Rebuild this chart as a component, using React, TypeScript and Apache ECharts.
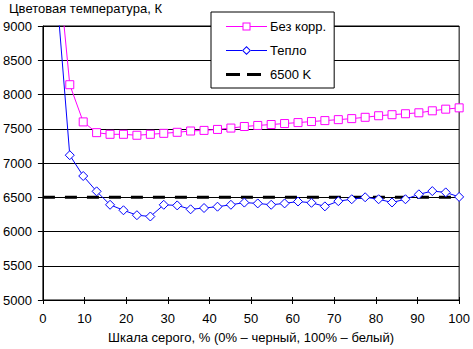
import React, { useEffect, useRef } from "react";
import * as echarts from "echarts";

const xValues: number[] = [
  3.23, 6.45, 9.68, 12.9, 16.13, 19.35, 22.58, 25.81, 29.03, 32.26, 35.48, 38.71,
  41.94, 45.16, 48.39, 51.61, 54.84, 58.06, 61.29, 64.52, 67.74, 70.97, 74.19,
  77.42, 80.65, 83.87, 87.1, 90.32, 93.55, 96.77, 100,
];
const noCorr: number[] = [
  10170, 8143, 7600, 7443, 7419, 7419, 7405, 7419, 7433, 7448, 7467, 7476, 7490,
  7510, 7533, 7548, 7562, 7576, 7590, 7605, 7619, 7633, 7648, 7667, 7690, 7705,
  7719, 7733, 7762, 7786, 7805,
];
const warm: number[] = [
  9550, 7114, 6810, 6586, 6390, 6310, 6238, 6219, 6390, 6381, 6324, 6343, 6362,
  6390, 6422, 6410, 6390, 6410, 6438, 6419, 6367, 6443, 6471, 6500, 6471, 6424,
  6471, 6543, 6590, 6571, 6505,
];
const refX: number[] = [0, 100];
const refY: number[] = [6500, 6500];
const seriesNames: string[] = ["Без корр.", "Тепло", "6500 K"];
const titleText = "Цветовая температура, К";
const xName = "Шкала серого, % (0% – черный, 100% – белый)";

const FONT = "'Liberation Sans', Arial, sans-serif";
const FS = 13;

const ICON_SQUARE =
  "path://M0,0 M41,9 M0,4 H17 V5 H0 Z M24,4 H41 V5 H24 Z " +
  "M16.5,0.5 H24.5 V8.5 H16.5 Z M17.5,1.5 V7.5 H23.5 V1.5 Z";
const ICON_DIAMOND =
  "path://M0,0 M41,9 M0,4 H16 V5 H0 Z M25,4 H41 V5 H25 Z " +
  "M20.5,0 L25,4.5 L20.5,9 L16,4.5 Z M20.5,1.4 L17.4,4.5 L20.5,7.6 L23.6,4.5 Z";
const ICON_DASH = "path://M0,0 M41,9 M0,3 H14 V6 H0 Z M21,3 H35 V6 H21 Z";

export default function App() {
  const ref = useRef<HTMLDivElement>(null);
  useEffect(() => {
    if (!ref.current) return;
    const chart = echarts.init(ref.current, undefined, { renderer: "svg" });
    const xBase = {
      type: "value",
      min: 0,
      max: 100,
      interval: 10,
      splitLine: { show: false },
    };
    const yBase = {
      type: "value",
      min: 5000,
      max: 9000,
      interval: 500,
    };
    chart.setOption({
      animation: false,
      backgroundColor: "#fff",
      textStyle: { fontFamily: FONT, color: "#000" },
      title: {
        text: titleText,
        left: 9,
        top: 2,
        padding: 0,
        textStyle: { fontFamily: FONT, fontSize: FS, fontWeight: "normal", color: "#000" },
      },
      legend: {
        orient: "vertical",
        left: 211,
        top: 12,
        padding: [8, 8, 7, 15],
        itemGap: 11,
        itemWidth: 41,
        itemHeight: 9,
        borderColor: "#000",
        borderWidth: 1,
        backgroundColor: "#fff",
        textStyle: { fontFamily: FONT, fontSize: FS, color: "#000", padding: [0, 0, 0, -2] },
        data: [
          { name: seriesNames[0], icon: ICON_SQUARE, itemStyle: { color: "#ff00ff", borderWidth: 0 } },
          { name: seriesNames[1], icon: ICON_DIAMOND, itemStyle: { color: "#0000ff", borderWidth: 0 } },
          { name: seriesNames[2], icon: ICON_DASH, itemStyle: { color: "#000", borderWidth: 0 } },
        ],
      },
      grid: {
        left: 38.5,
        right: 10,
        top: 26,
        bottom: 43,
        show: true,
        borderColor: "#000",
        borderWidth: 1,
        backgroundColor: "transparent",
      },
      xAxis: [
        {
          ...xBase,
          name: xName,
          nameLocation: "middle",
          nameGap: 31,
          nameTextStyle: { fontFamily: FONT, fontSize: FS, color: "#000" },
          axisLine: { show: true, lineStyle: { color: "#000", width: 1 } },
          axisTick: { show: true, length: 4, lineStyle: { color: "#000" } },
          axisLabel: { fontFamily: FONT, fontSize: FS, color: "#000", margin: 12 },
        },
        {
          ...xBase,
          position: "bottom",
          offset: 0,
          axisLine: { show: false },
          axisTick: { show: true, inside: true, length: 3, lineStyle: { color: "#000" } },
          axisLabel: { show: false },
        },
      ],
      yAxis: [
        {
          ...yBase,
          axisLine: { show: true, lineStyle: { color: "#000", width: 1 } },
          axisTick: { show: true, length: 5, lineStyle: { color: "#000" } },
          axisLabel: {
            fontFamily: FONT,
            fontSize: FS,
            color: "#000",
            margin: 11,
            formatter: (v: number) => String(v),
          },
          splitLine: { show: true, lineStyle: { color: "#000", width: 1 } },
        },
        {
          ...yBase,
          position: "left",
          offset: 0,
          axisLine: { show: false },
          axisTick: { show: true, inside: true, length: 4, lineStyle: { color: "#000" } },
          axisLabel: { show: false },
          splitLine: { show: false },
        },
      ],
      series: [
        {
          name: seriesNames[0],
          type: "line",
          data: xValues.map((x, i) => [x, noCorr[i]]),
          symbol: "rect",
          symbolSize: 8,
          showAllSymbol: true,
          color: "#ff00ff",
          lineStyle: { color: "#ff00ff", width: 1 },
          itemStyle: { color: "#fff", borderColor: "#ff00ff", borderWidth: 1 },
          z: 4,
        },
        {
          name: seriesNames[1],
          type: "line",
          data: xValues.map((x, i) => [x, warm[i]]),
          symbol: "diamond",
          symbolSize: 9,
          showAllSymbol: true,
          color: "#0000ff",
          lineStyle: { color: "#0000ff", width: 1 },
          itemStyle: { color: "#fff", borderColor: "#0000ff", borderWidth: 1 },
          z: 4,
        },
        {
          name: seriesNames[2],
          type: "line",
          data: refX.map((x, i) => [x, refY[i]]),
          symbol: "none",
          color: "#000",
          itemStyle: { color: "#000", borderWidth: 0 },
          lineStyle: { color: "#000", width: 3, type: [12, 10] },
          z: 3,
        },
      ],
    });
    return () => chart.dispose();
  }, []);
  return (
    <div
      ref={ref}
      style={{ position: "fixed", left: 0, top: 0, width: 473, height: 349 }}
    />
  );
}
